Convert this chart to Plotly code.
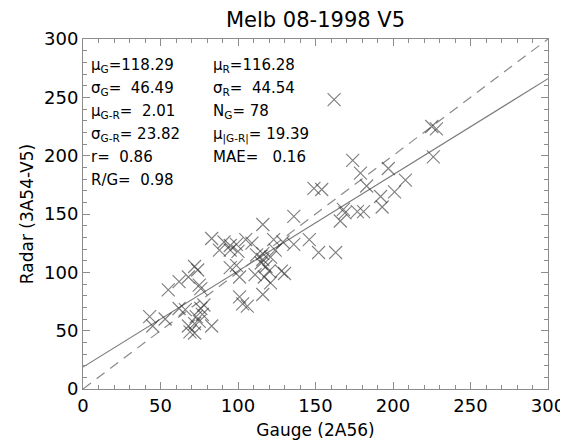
import plotly.graph_objects as go

# ---- data ----
gauge = [43, 45, 53, 55, 62, 62, 66, 68, 68, 69, 72, 74, 72, 72, 73, 75, 76, 75, 77, 78,
         76, 83, 83, 88, 91, 95, 95, 99, 100, 95, 99, 101, 101, 103, 106, 105, 109, 112,
         116, 121, 124, 115, 118, 120, 111, 116, 121, 123, 116, 116, 128, 130, 129, 136,
         136, 146, 152, 163, 149, 154, 162, 166, 168, 169, 177, 181, 174, 179, 183, 192,
         193, 197, 201, 208, 225, 228, 226, 117]
radar = [62, 54, 60, 85, 92, 69, 68, 96, 54, 49, 105, 102, 56, 48, 62, 89, 86, 58, 64, 72,
         69, 54, 129, 119, 126, 123, 119, 124, 118, 104, 106, 96, 79, 73, 71, 128, 125, 115,
         116, 113, 119, 108, 105, 101, 98, 81, 91, 128, 141, 111, 101, 99, 126, 124,
         148, 128, 117, 117, 172, 171, 248, 144, 154, 151, 152, 152, 196, 185, 174, 165,
         156, 189, 169, 179, 225, 223, 199, 96]

# summary statistics shown on the chart
stat_left = ["μ<sub>G</sub>=118.29", "σ<sub>G</sub>=\u00a0 46.49", "μ<sub>G-R</sub>=\u00a0 2.01",
             "σ<sub>G-R</sub>= 23.82", "r=\u00a0 0.86", "R/G=\u00a0 0.98"]
stat_right = ["μ<sub>R</sub>=116.28", "σ<sub>R</sub>=\u00a0 44.54", "N<sub>G</sub>= 78",
              "μ<sub>|G-R|</sub>= 19.39", "MAE=\u00a0\u00a0 0.16"]

fit_intercept = 18.8
fit_slope = 0.824
line_x = [0, 300]

title_text = "Melb 08-1998 V5"
x_title = "Gauge (2A56)"
y_title = "Radar (3A54-V5)"
tick_vals = [0, 50, 100, 150, 200, 250, 300]

FONT = "DejaVu Sans, Liberation Sans, Arial, sans-serif"
AXC = "#8c8c8c"

# the page body adds an 8px margin; work in window pixels and convert
OFF = 8
FW, FH = 568 - OFF, 446 - OFF
L, R, T, B = 83 - OFF, 548 - OFF, 39 - OFF, 389 - OFF
W, H = R - L, B - T

def px(x):
    return (x - OFF - L) / W

def py(y):
    return (B - (y - OFF)) / H

fig = go.Figure()
fig.add_trace(go.Scatter(x=line_x, y=line_x, mode="lines",
                         line=dict(color="#8a8a8a", width=1.2, dash="10px,7px"),
                         hoverinfo="skip", showlegend=False))
fig.add_trace(go.Scatter(x=line_x, y=[fit_intercept + fit_slope * v for v in line_x],
                         mode="lines", line=dict(color="#7a7a7a", width=1.1),
                         hoverinfo="skip", showlegend=False))
fig.add_trace(go.Scatter(x=gauge, y=radar, mode="markers",
                         marker=dict(symbol="x-thin", size=13,
                                     line=dict(width=1.1, color="rgba(40,40,40,0.6)")),
                         showlegend=False))

rows = [65, 88, 112, 135, 157, 180]
for i, s in enumerate(stat_left):
    fig.add_annotation(x=px(89), y=py(rows[i]), xref="paper", yref="paper", text=s,
                       showarrow=False, xanchor="left", yanchor="middle",
                       font=dict(family=FONT, size=15, color="black"))
for i, s in enumerate(stat_right):
    fig.add_annotation(x=px(211), y=py(rows[i]), xref="paper", yref="paper", text=s,
                       showarrow=False, xanchor="left", yanchor="middle",
                       font=dict(family=FONT, size=15, color="black"))

axis_common = dict(range=[0, 300], tickvals=tick_vals, showgrid=False, zeroline=False,
                   showline=True, linecolor=AXC, linewidth=1, mirror="allticks",
                   ticks="inside", ticklen=7, tickcolor=AXC, tickwidth=1, automargin=False,
                   minor=dict(dtick=10, ticks="inside", ticklen=4, tickcolor=AXC, tickwidth=1),
                   tickfont=dict(family=FONT, size=18, color="black"))

fig.update_xaxes(**axis_common, title=dict(text=x_title, standoff=9,
                 font=dict(family=FONT, size=17, color="black")))
fig.update_yaxes(**axis_common, title=dict(text=y_title, standoff=6,
                 font=dict(family=FONT, size=17, color="black")))

fig.update_layout(width=FW, height=FH,
                  margin=dict(l=L, r=FW - R, t=T, b=FH - B, autoexpand=False),
                  plot_bgcolor="white", paper_bgcolor="white",
                  title=dict(text=title_text, x=(L + R) / 2 / FW, xanchor="center",
                             y=1 - (20 - OFF) / FH, yanchor="middle",
                             font=dict(family=FONT, size=21, color="black")),
                  showlegend=False)

fig.write_html("out.html")
